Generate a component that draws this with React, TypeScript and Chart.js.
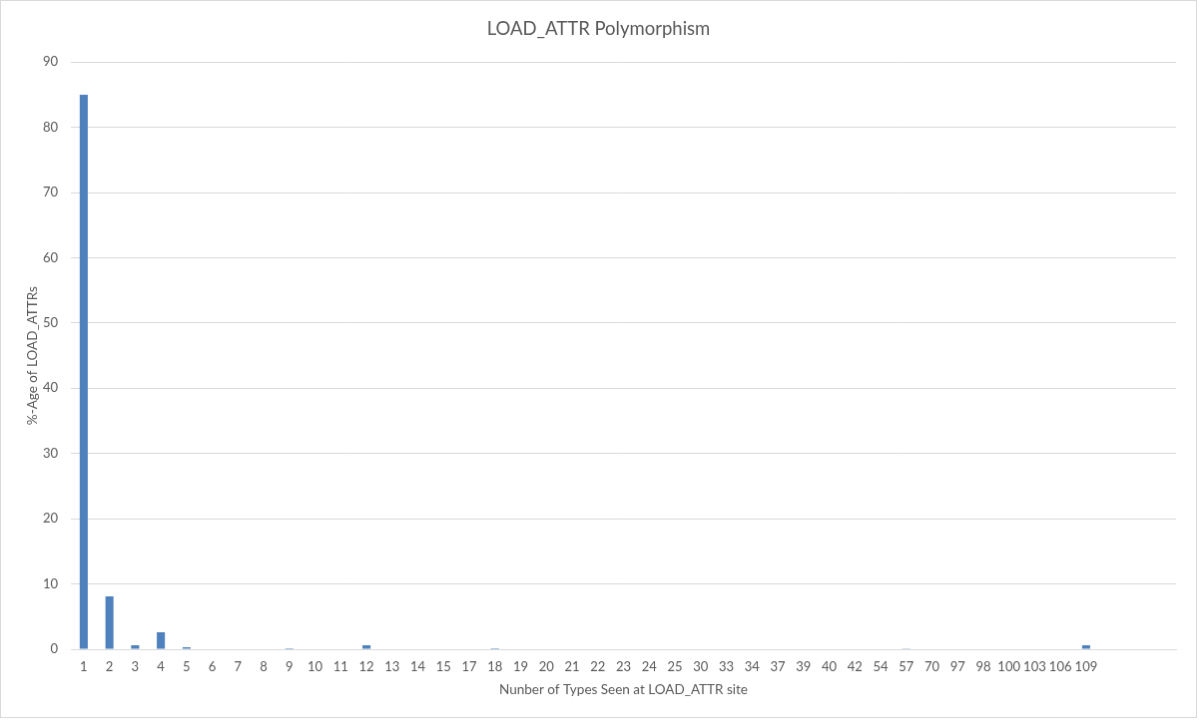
import React, { useEffect, useRef } from "react";
import { Chart, registerables } from "chart.js";

Chart.register(...registerables);

const categories: string[] = [
  "1", "2", "3", "4", "5", "6", "7", "8", "9", "10", "11", "12", "13", "14", "15",
  "17", "18", "19", "20", "21", "22", "23", "24", "25", "30", "33", "34", "37", "39",
  "40", "42", "54", "57", "70", "97", "98", "100", "103", "106", "109", "", "", "",
];

const percentValues: (number | null)[] = [
  85, 8.1, 0.6, 2.6, 0.3, 0, 0, 0, 0.15, 0, 0, 0.6, 0, 0, 0,
  0, 0.15, 0, 0, 0, 0, 0, 0, 0, 0, 0, 0, 0, 0,
  0, 0, 0, 0.1, 0, 0, 0, 0, 0, 0, 0.6, null, null, null,
];

const yTicks = { min: 0, max: 90, step: 10 };

const TEXT = "#595959";
const GRID = "#d9d9d9";
const FONT = "Lato, 'Open Sans', sans-serif";

export default function App() {
  const ref = useRef<HTMLCanvasElement | null>(null);

  useEffect(() => {
    document.body.style.margin = "0";
    const canvas = ref.current;
    if (!canvas) return;
    const chart = new Chart(canvas, {
      type: "bar",
      data: {
        labels: categories,
        datasets: [
          {
            label: "%-Age of LOAD_ATTRs",
            data: percentValues,
            backgroundColor: "#4F81BD",
            borderWidth: 0,
            categoryPercentage: 1,
            barPercentage: 0.313,
            yAxisID: "y",
          },
        ],
      },
      options: {
        animation: false,
        responsive: false,
        devicePixelRatio: 1,
        layout: { padding: 0 },
        plugins: {
          legend: { display: false },
          tooltip: { enabled: false },
          title: {
            display: true,
            text: "LOAD_ATTR Polymorphism",
            color: TEXT,
            font: { family: FONT, size: 18.5, weight: "normal" },
            padding: { top: 17, bottom: 22 },
          },
        },
        scales: {
          x: {
            grid: { display: false, drawTicks: false },
            border: { display: true, color: GRID },
            ticks: {
              color: TEXT,
              font: { family: FONT, size: 13 },
              autoSkip: false,
              maxRotation: 0,
              minRotation: 0,
              padding: 10,
            },
            title: {
              display: true,
              text: "Nunber of Types Seen at LOAD_ATTR site",
              color: TEXT,
              font: { family: FONT, size: 13.5 },
              padding: { top: 0, bottom: 19.2 },
            },
            afterFit: (scale: any) => {
              scale.height = 68;
            },
          },
          y: {
            position: "left",
            min: yTicks.min,
            max: yTicks.max,
            grid: { color: GRID, drawTicks: false },
            border: { display: false },
            ticks: {
              stepSize: yTicks.step,
              color: TEXT,
              font: { family: FONT, size: 13 },
              padding: 13,
            },
            title: {
              display: true,
              text: "%-Age of LOAD_ATTRs",
              color: TEXT,
              font: { family: FONT, size: 13.5 },
              padding: { top: 23.2, bottom: 0 },
            },
            afterFit: (scale: any) => {
              scale.width = 70;
            },
          },
          yRightSpace: {
            position: "right",
            min: yTicks.min,
            max: yTicks.max,
            grid: { display: false, drawTicks: false },
            border: { display: false },
            ticks: { display: false },
            afterFit: (scale: any) => {
              scale.width = 20;
            },
          },
        },
      },
    });
    return () => chart.destroy();
  }, []);

  return (
    <canvas
      ref={ref}
      width={1197}
      height={718}
      style={{ display: "block", width: 1197, height: 718, border: "1px solid #d9d9d9" }}
    />
  );
}
